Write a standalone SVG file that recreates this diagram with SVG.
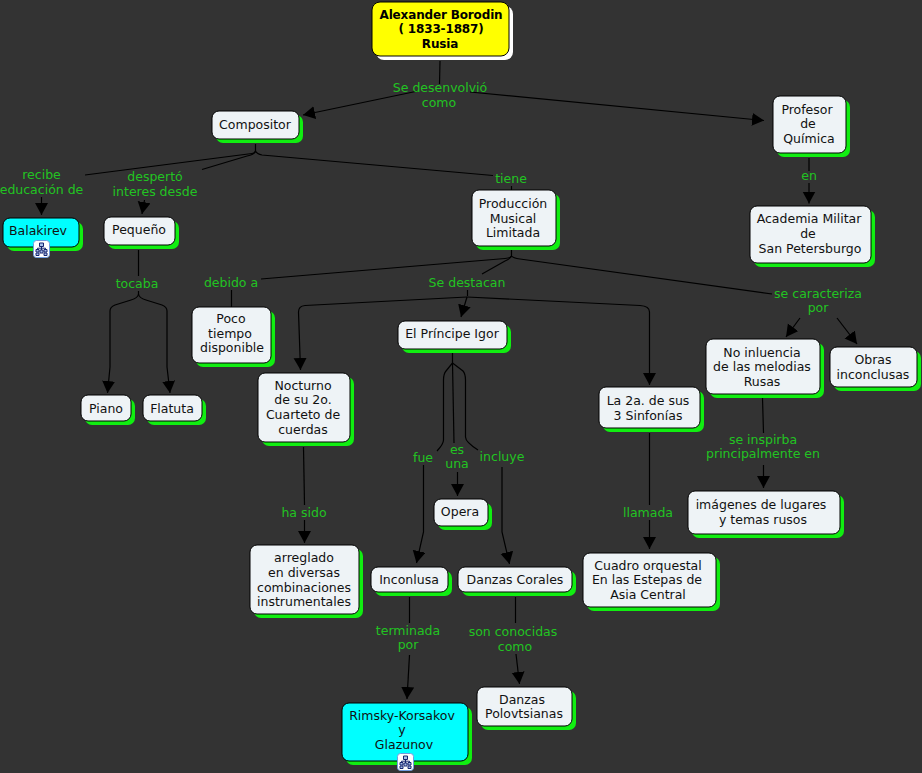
<svg xmlns="http://www.w3.org/2000/svg" width="922" height="773" viewBox="0 0 922 773">
<style>
text{font-family:"DejaVu Sans",Verdana,sans-serif;font-size:12.5px;text-anchor:middle;fill:#111}
text.r{font-weight:bold;font-size:12px;letter-spacing:-.15px;fill:#000}
text.l{fill:#22c322}
.b{fill:#eef3f6;stroke:#000;stroke-width:1}
.c{fill:#00ffff;stroke:#000;stroke-width:1}
.y{fill:#ffff00;stroke:#000;stroke-width:1}
.s{fill:#11ee11}
.w{fill:#fff}
#connectors path{fill:none;stroke:#000;stroke-width:1.2}
#connectors path.a{marker-end:url(#ah)}
</style>
<defs>
<marker id="ah" markerUnits="userSpaceOnUse" markerWidth="14" markerHeight="14" refX="12" refY="6.500" orient="auto"><path d="M0 0L12 6.500L0 13Z" fill="#000"/></marker>
<g id="icon">
<rect x=".5" y=".5" width="16" height="17" rx="3" fill="#fff" stroke="#6f9ce0"/>
<path d="M6.500 3H10.500V6.500H6.500ZM3 9.500H6V12H3ZM11 9.500H14V12H11ZM3 13H6V15.500H3ZM11 13H14V15.500H11ZM7 10H10V13H7Z" fill="#a9c0ea" stroke="#16246e" stroke-width="1"/>
<path d="M8.500 6.500V10M4.500 9.500V8.200H12.500V9.500" fill="none" stroke="#16246e" stroke-width="1"/>
</g>
</defs>
<rect width="922" height="773" fill="#333333"/>
<g id="connectors">
<path d="M440 61L439.500 84"/>
<path class="a" d="M418 91L303 115"/>
<path class="a" d="M470 92L764 120.500"/>
<path d="M255.500 144V151Q255.500 153 252 153.500L85 175"/>
<path d="M255.500 151Q254 155 247 156L202 169.500"/>
<path d="M255.500 151Q257 154 262 155L493 175.500"/>
<path d="M511.500 186V190"/>
<path class="a" d="M41.500 197V215"/>
<path class="a" d="M144.500 200L142 214"/>
<path d="M809 158V171"/>
<path class="a" d="M809 183V203.500"/>
<path d="M138.500 250V276"/>
<path class="a" d="M138.500 291V294Q138 298 131 300L115 305Q110 307 110 311V367L107.500 393"/>
<path class="a" d="M138.500 294Q139 298 146 300L162 305Q167 307 167 311V367L170 393"/>
<path d="M511.500 250V256Q511 258 505 258.500L261 279"/>
<path d="M511.500 256Q510 259 505 261L482 274"/>
<path d="M511.500 256Q513 258 520 259L772 294"/>
<path d="M231.500 290V307"/>
<path d="M467.500 290V296"/>
<path class="a" d="M467 297L305 305.500Q298.500 306 298.500 312L300.500 370"/>
<path class="a" d="M467 297L461 317"/>
<path class="a" d="M467 297L640 305.500Q649.500 306 649.500 312V385"/>
<path class="a" d="M800 318L786 337"/>
<path class="a" d="M837 318L857 344"/>
<path d="M762.500 398L763.500 433"/>
<path class="a" d="M763.500 465V488"/>
<path d="M649.500 433V505"/>
<path class="a" d="M649.500 520V549"/>
<path d="M303.500 447L304.500 505"/>
<path class="a" d="M304.500 520V543"/>
<path d="M452.500 353V363L446 371Q443.500 374 443.500 380V440Q443.500 444 437 451"/>
<path d="M452.500 363L454 443"/>
<path d="M452.500 363L463 371Q465.500 374 465.500 380V437Q465.500 442 478 450"/>
<path class="a" d="M423.500 465V532L416.500 563"/>
<path class="a" d="M457.500 472V496"/>
<path class="a" d="M502 467V532L509.500 564"/>
<path d="M409.500 597V623"/>
<path class="a" d="M409.500 655L407 699"/>
<path d="M515.500 597V623"/>
<path class="a" d="M516 654L519.500 684"/>
</g>
<g id="labels">
<text class="l" x="440" y="92">Se desenvolvió</text><text class="l" x="439" y="107">como</text>
<text class="l" x="41.500" y="179">recibe</text><text class="l" x="41.500" y="194">educación de</text>
<text class="l" x="155" y="181">despertó</text><text class="l" x="155" y="196">interes desde</text>
<text class="l" x="511" y="183">tiene</text>
<text class="l" x="809" y="180">en</text>
<text class="l" x="137" y="288">tocaba</text>
<text class="l" x="231" y="287">debido a</text>
<text class="l" x="467" y="287">Se destacan</text>
<text class="l" x="818" y="298">se caracteriza</text><text class="l" x="818" y="312">por</text>
<text class="l" x="423" y="462">fue</text>
<text class="l" x="457" y="454">es</text><text class="l" x="457" y="468">una</text>
<text class="l" x="502" y="461">incluye</text>
<text class="l" x="304" y="517">ha sido</text>
<text class="l" x="648" y="517">llamada</text>
<text class="l" x="763" y="444">se inspirba</text><text class="l" x="763" y="458">principalmente en</text>
<text class="l" x="408" y="635">terminada</text><text class="l" x="408" y="649">por</text>
<text class="l" x="513" y="636">son conocidas</text><text class="l" x="515" y="651">como</text>
</g>
<g id="n-root"><rect class="w" x="376" y="6" width="137" height="54" rx="8"/><rect class="y" x="372" y="2" width="137" height="54" rx="8"/><text class="r" x="441" y="19">Alexander Borodin</text><text class="r" x="441" y="33">( 1833-1887)</text><text class="r" x="440" y="48">Rusia</text></g>
<g id="n-compositor"><rect class="s" x="216" y="115" width="87" height="28" rx="7"/><rect class="b" x="212" y="111" width="87" height="28" rx="7"/><text x="255" y="129">Compositor</text></g>
<g id="n-profesor"><rect class="s" x="777" y="100" width="73" height="57" rx="7"/><rect class="b" x="773" y="96" width="73" height="57" rx="7"/><text x="807" y="114">Profesor</text><text x="808" y="128">de</text><text x="809" y="143">Química</text></g>
<g id="n-produccion"><rect class="s" x="476" y="194" width="84" height="56" rx="7"/><rect class="b" x="472" y="190" width="84" height="56" rx="7"/><text x="513" y="208">Producción</text><text x="513" y="223">Musical</text><text x="513" y="237">Limitada</text></g>
<g id="n-academia"><rect class="s" x="754" y="210" width="121" height="57" rx="7"/><rect class="b" x="750" y="206" width="121" height="57" rx="7"/><text x="809" y="223">Academia Militar</text><text x="808" y="238">de</text><text x="810" y="253">San Petersburgo</text></g>
<g id="n-balakirev"><rect class="s" x="7" y="222" width="76" height="29" rx="7"/><rect class="c" x="3" y="218" width="76" height="29" rx="7"/><text x="38" y="235">Balakirev</text><use href="#icon" x="33" y="240"/></g>
<g id="n-pequeno"><rect class="s" x="108" y="221" width="71" height="28" rx="7"/><rect class="b" x="104" y="217" width="71" height="28" rx="7"/><text x="139" y="234">Pequeño</text></g>
<g id="n-poco"><rect class="s" x="196" y="311" width="79" height="56" rx="7"/><rect class="b" x="192" y="307" width="79" height="56" rx="7"/><text x="231" y="323">Poco</text><text x="230" y="338">tiempo</text><text x="232" y="352">disponible</text></g>
<g id="n-nocturno"><rect class="s" x="262" y="377" width="92" height="69" rx="7"/><rect class="b" x="258" y="373" width="92" height="69" rx="7"/><text x="303" y="390">Nocturno</text><text x="303" y="404">de su 2o.</text><text x="303" y="419">Cuarteto de</text><text x="303" y="434">cuerdas</text></g>
<g id="n-igor"><rect class="s" x="402" y="325" width="109" height="28" rx="7"/><rect class="b" x="398" y="321" width="109" height="28" rx="7"/><text x="452" y="338">El Príncipe Igor</text></g>
<g id="n-opera"><rect class="s" x="438" y="503" width="54" height="27" rx="7"/><rect class="b" x="434" y="499" width="54" height="27" rx="7"/><text x="460" y="516">Opera</text></g>
<g id="n-arreglado"><rect class="s" x="254" y="549" width="109" height="69" rx="7"/><rect class="b" x="250" y="545" width="109" height="69" rx="7"/><text x="304" y="562">arreglado</text><text x="304" y="577">en diversas</text><text x="304" y="592">combinaciones</text><text x="304" y="606">instrumentales</text></g>
<g id="n-inconlusa"><rect class="s" x="375" y="571" width="77" height="25" rx="7"/><rect class="b" x="371" y="567" width="77" height="25" rx="7"/><text x="409" y="584">Inconlusa</text></g>
<g id="n-danzas"><rect class="s" x="462" y="571" width="114" height="25" rx="7"/><rect class="b" x="458" y="567" width="114" height="25" rx="7"/><text x="515" y="584">Danzas Corales</text></g>
<g id="n-rimsky"><rect class="s" x="346" y="707" width="126" height="58" rx="7"/><rect class="c" x="342" y="703" width="126" height="58" rx="7"/><text x="402" y="720">Rimsky-Korsakov</text><text x="402" y="734">y</text><text x="404" y="749">Glazunov</text><use href="#icon" x="397" y="753"/></g>
<g id="n-polov"><rect class="s" x="481" y="691" width="95" height="39" rx="7"/><rect class="b" x="477" y="687" width="95" height="39" rx="7"/><text x="522" y="704">Danzas</text><text x="524" y="718">Polovtsianas</text></g>
<g id="n-piano"><rect class="s" x="85" y="399" width="50" height="26" rx="7"/><rect class="b" x="81" y="395" width="50" height="26" rx="7"/><text x="106" y="413">Piano</text></g>
<g id="n-flatuta"><rect class="s" x="147" y="399" width="59" height="26" rx="7"/><rect class="b" x="143" y="395" width="59" height="26" rx="7"/><text x="172" y="413">Flatuta</text></g>
<g id="n-influencia"><rect class="s" x="710" y="343" width="114" height="55" rx="7"/><rect class="b" x="706" y="339" width="114" height="55" rx="7"/><text x="762" y="357">No inluencia</text><text x="762" y="371">de las melodias</text><text x="762" y="386">Rusas</text></g>
<g id="n-obras"><rect class="s" x="834" y="351" width="87" height="40" rx="7"/><rect class="b" x="830" y="347" width="87" height="40" rx="7"/><text x="873" y="364">Obras</text><text x="873" y="379">inconclusas</text></g>
<g id="n-sinfonias"><rect class="s" x="603" y="391" width="101" height="41" rx="7"/><rect class="b" x="599" y="387" width="101" height="41" rx="7"/><text x="648" y="405">La 2a. de sus</text><text x="648" y="420">3 Sinfonías</text></g>
<g id="n-imagenes"><rect class="s" x="692" y="495" width="152" height="43" rx="7"/><rect class="b" x="688" y="491" width="152" height="43" rx="7"/><text x="761" y="509">imágenes de lugares</text><text x="763" y="524">y temas rusos</text></g>
<g id="n-cuadro"><rect class="s" x="587" y="557" width="133" height="54" rx="7"/><rect class="b" x="583" y="553" width="133" height="54" rx="7"/><text x="648" y="570">Cuadro orquestal</text><text x="647" y="584">En las Estepas de</text><text x="648" y="599">Asia Central</text></g>
</svg>
